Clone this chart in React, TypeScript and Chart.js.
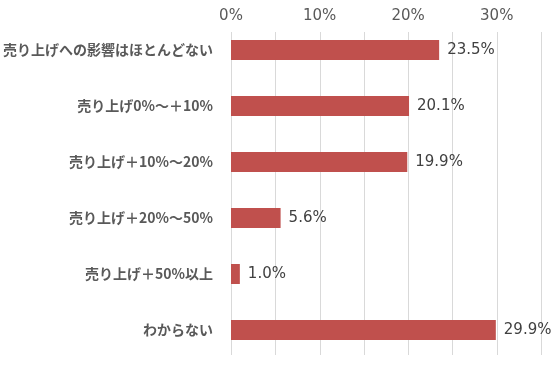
import React, { useEffect, useRef } from "react";
import { Chart, registerables } from "chart.js";

Chart.register(...registerables);

const categories = [
  "売り上げへの影響はほとんどない",
  "売り上げ0%～＋10%",
  "売り上げ＋10%～20%",
  "売り上げ＋20%～50%",
  "売り上げ＋50%以上",
  "わからない",
];
const values = [23.5, 20.1, 19.9, 5.6, 1.0, 29.9];
const xMin = 0;
const xMax = 35;
const xStep = 5;
const labeledTicks = [0, 10, 20, 30];

const valueLabelPlugin = {
  id: "valueLabels",
  afterDatasetsDraw(chart: any) {
    const { ctx } = chart;
    const meta = chart.getDatasetMeta(0);
    ctx.save();
    ctx.font = "15px 'DejaVu Sans'";
    ctx.fillStyle = "#404040";
    ctx.textAlign = "left";
    ctx.textBaseline = "middle";
    meta.data.forEach((bar: any, i: number) => {
      ctx.fillText(values[i].toFixed(1) + "%", bar.x + 8, bar.y);
    });
    ctx.restore();
  },
};

const gridPlugin = {
  id: "customGrid",
  beforeDatasetsDraw(chart: any) {
    const { ctx, chartArea } = chart;
    const xs = chart.scales.x;
    ctx.save();
    ctx.strokeStyle = "#D9D9D9";
    ctx.lineWidth = 1;
    for (let v = xMin; v <= xMax; v += xStep) {
      const px = Math.round(xs.getPixelForValue(v)) + 0.5;
      ctx.beginPath();
      ctx.moveTo(px, chartArea.top + 10);
      ctx.lineTo(px, chartArea.bottom - 3);
      ctx.stroke();
    }
    ctx.restore();
  },
};

export default function App() {
  const ref = useRef<HTMLCanvasElement>(null);
  useEffect(() => {
    if (!ref.current) return;
    const chart = new Chart(ref.current, {
      type: "bar",
      data: {
        labels: categories,
        datasets: [
          {
            data: values,
            backgroundColor: "#C0504D",
            categoryPercentage: 1,
            barPercentage: 0.357,
          },
        ],
      },
      options: {
        indexAxis: "y",
        animation: false,
        responsive: true,
        maintainAspectRatio: false,
        layout: { padding: { top: 4, right: 17, bottom: 8, left: 0 } },
        plugins: { legend: { display: false }, tooltip: { enabled: false } },
        scales: {
          x: {
            position: "top",
            min: xMin,
            max: xMax,
            ticks: {
              stepSize: xStep,
              padding: -3,
              color: "#595959",
              font: { family: "'DejaVu Sans'", size: 15 },
              autoSkip: false,
              maxRotation: 0,
              callback: (v: any) => (labeledTicks.includes(Number(v)) ? v + "%" : ""),
            },
            grid: { display: false, drawTicks: false },
            border: { display: false },
            afterFit: (scale: any) => {
              scale.height = 18;
            },
          },
          y: {
            ticks: {
              color: "#595959",
              padding: 18,
              font: { family: "'Noto Sans CJK JP'", size: 14, weight: "bold" },
            },
            grid: { display: false, drawTicks: false },
            border: { display: false },
            afterFit: (scale: any) => {
              scale.width = 231;
              scale.paddingTop = 0;
              scale.paddingBottom = 0;
            },
          },
        },
      },
      plugins: [gridPlugin, valueLabelPlugin],
    });
    return () => chart.destroy();
  }, []);
  return (
    <div style={{ position: "fixed", left: 0, top: 0, width: 558, height: 366, background: "#fff" }}>
      <canvas ref={ref} />
    </div>
  );
}
